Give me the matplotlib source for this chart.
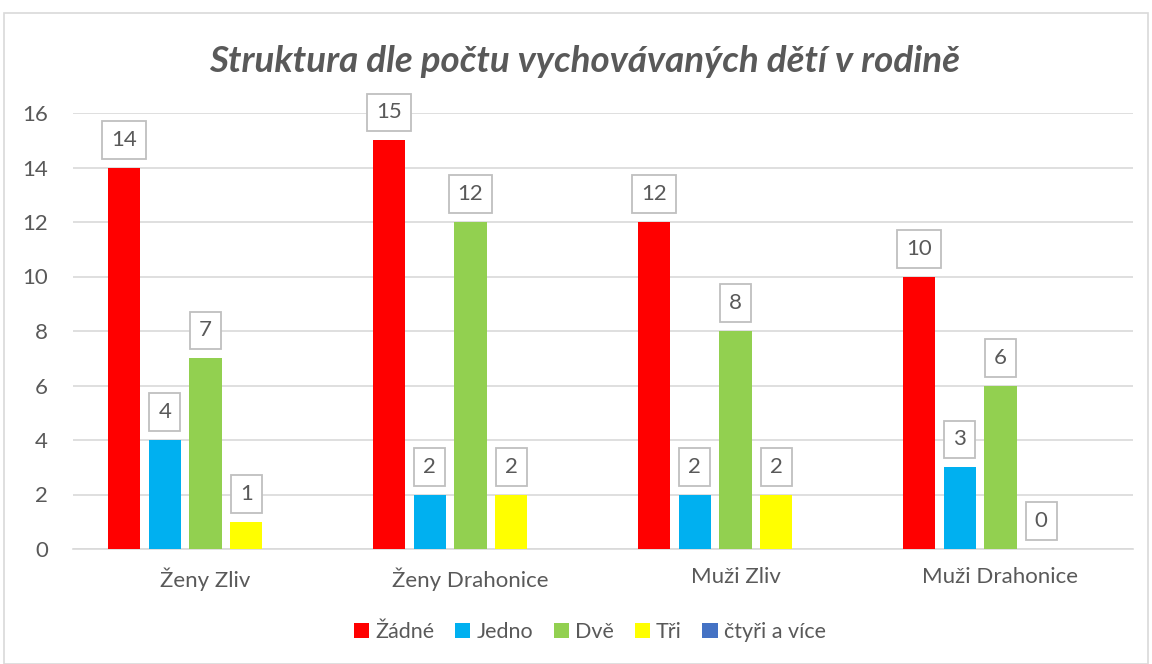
import numpy as np
import matplotlib.pyplot as plt
from matplotlib.patches import Rectangle

categories = ["Ženy Zliv", "Ženy Drahonice", "Muži Zliv", "Muži Drahonice"]
series = ["Žádné", "Jedno", "Dvě", "Tři", "čtyři a více"]
zadne = [14, 15, 12, 10]
jedno = [4, 2, 2, 3]
dve = [7, 12, 8, 6]
tri = [1, 2, 2, 0]
ctyri = [np.nan, np.nan, np.nan, np.nan]
colors = ["#FF0000", "#00B0F0", "#92D050", "#FFFF00", "#4472C4"]

plt.rcParams['font.family'] = ['Lato', 'DejaVu Sans']
txt = "#595959"

fig = plt.figure(figsize=(11.52, 6.64), dpi=100)
fig.patches.append(Rectangle((4 / 1152, 0), 1144 / 1152, 1 - 13 / 664, transform=fig.transFigure,
                             fill=False, edgecolor="#D9D9D9", linewidth=1.2))
ax = fig.add_axes([73 / 1152, 1 - 549 / 664, 1060 / 1152, 436 / 664])

x = np.arange(len(categories))
slot = 0.1536
width = 0.121
for i, (name, vals) in enumerate(zip(series, [zadne, jedno, dve, tri, ctyri])):
    pos = x - 2 * slot + i * slot
    ax.bar(pos, vals, width, color=colors[i], label=name, zorder=3)
    for p, v in zip(pos, vals):
        if np.isnan(v):
            continue
        ax.annotate(str(v), (p, v), xytext=(0, 20), textcoords="offset points",
                    ha="center", va="center", fontsize=16, color=txt,
                    bbox=dict(boxstyle="square,pad=0.4", fc="white", ec="#BFBFBF", lw=1.3))

ax.set_xlim(-0.5, 3.5)
ax.set_ylim(0, 16)
ax.set_yticks(range(0, 17, 2))
ax.set_xticks(x)
ax.set_xticklabels(categories)
ax.tick_params(axis="both", length=0, labelsize=16, colors=txt)
ax.tick_params(axis="x", pad=13)
ax.tick_params(axis="y", pad=18)
ax.grid(axis="y", color="#D9D9D9", linewidth=1.2, zorder=0)
for s in ["top", "right", "left"]:
    ax.spines[s].set_visible(False)
ax.spines["bottom"].set_color("#D9D9D9")
ax.spines["bottom"].set_linewidth(1.2)

fig.text(585 / 1152, 1 - 62 / 664, "Struktura dle počtu vychovávaných dětí v rodině",
         ha="center", va="center", fontsize=26.5, style="italic", fontweight="bold", color=txt)

fig.legend(loc="center", bbox_to_anchor=(590 / 1152, 1 - 632 / 664), ncol=5, frameon=False,
           fontsize=15.5, handlelength=0.7, handleheight=0.7, handletextpad=0.3,
           columnspacing=0.95, labelcolor=txt)

fig.savefig("out.png", dpi=100)
